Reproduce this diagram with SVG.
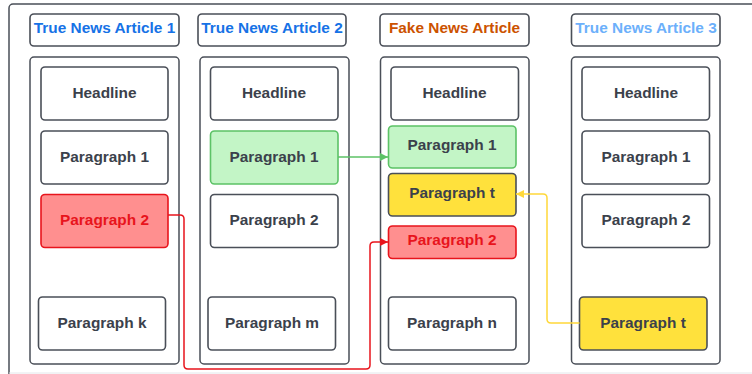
<svg xmlns="http://www.w3.org/2000/svg" width="752" height="374" viewBox="0 0 752 374">
  <defs>
    <style>
      .frame { fill: #ffffff; stroke: #4a4f58; stroke-width: 1.5; }
      .col { fill: #ffffff; stroke: #4a4f58; stroke-width: 1.5; }
      .box { fill: #ffffff; stroke: #4a4f58; stroke-width: 1.6; }
      .green { fill: #c3f5c6; stroke: #5cc266; }
      .red { fill: #ff8f8f; stroke: #e8141c; }
      .yellow { fill: #ffe13c; stroke: #4a4f58; }
      text { font-family: "Liberation Sans", Arial, sans-serif; font-size: 15.4px; font-weight: bold; text-anchor: middle; dominant-baseline: central; fill: #3b414b; }
      .t-blue { fill: #1672e6; }
      .t-orange { fill: #cc5200; }
      .t-light { fill: #6cb0fb; }
      .t-red { fill: #e8141c; }
      .conn { fill: none; stroke-width: 1.5; stroke-linejoin: round; }
    </style>
    <marker id="ah-green" markerWidth="10" markerHeight="10" refX="9" refY="5" orient="auto" markerUnits="userSpaceOnUse">
      <path d="M1,1 L9,5 L1,9 Z" fill="#5cc266"/>
    </marker>
    <marker id="ah-red" markerWidth="10" markerHeight="10" refX="9" refY="5" orient="auto" markerUnits="userSpaceOnUse">
      <path d="M1,1 L9,5 L1,9 Z" fill="#e8141c"/>
    </marker>
    <marker id="ah-yellow" markerWidth="10" markerHeight="10" refX="9" refY="5" orient="auto" markerUnits="userSpaceOnUse">
      <path d="M1,1 L9,5 L1,9 Z" fill="#ffd83a"/>
    </marker>
  </defs>

  <!-- outer frame, running past the right and bottom edges -->
  <rect class="frame" x="9" y="4" width="780" height="400" rx="4"/>
  <line x1="9" y1="373" x2="752" y2="373" stroke="#e4e6ea" stroke-width="1"/>

  <!-- article 1 -->
  <g id="article1">
    <rect class="box" x="30" y="14" width="149" height="32" rx="4"/>
    <text class="t-blue" x="104.5" y="27.5">True News Article 1</text>
    <rect class="col" x="30" y="57" width="149" height="307" rx="4"/>
  </g>
  <g id="a1-headline"><rect class="box" x="41" y="67" width="127" height="53" rx="4"/><text x="104.5" y="92">Headline</text></g>
  <g id="a1-p1"><rect class="box" x="41" y="131" width="127" height="53" rx="4"/><text x="104.5" y="156">Paragraph 1</text></g>
  <g id="a1-p2"><rect class="box red" x="41" y="194.5" width="127" height="53" rx="4"/><text class="t-red" x="104.5" y="219.5">Paragraph 2</text></g>
  <g id="a1-pk"><rect class="box" x="38.5" y="297" width="127" height="53" rx="4"/><text x="102" y="322">Paragraph k</text></g>

  <!-- article 2 -->
  <g id="article2">
    <rect class="box" x="198" y="14" width="148" height="32" rx="4"/>
    <text class="t-blue" x="272" y="27.5">True News Article 2</text>
    <rect class="col" x="200" y="57" width="149" height="307" rx="4"/>
  </g>
  <g id="a2-headline"><rect class="box" x="210.5" y="67" width="127.5" height="53" rx="4"/><text x="274" y="92">Headline</text></g>
  <g id="a2-p1"><rect class="box green" x="210.5" y="131" width="127.5" height="53" rx="4"/><text x="274" y="156">Paragraph 1</text></g>
  <g id="a2-p2"><rect class="box" x="210.5" y="194.5" width="127.5" height="53" rx="4"/><text x="274" y="219.5">Paragraph 2</text></g>
  <g id="a2-pm"><rect class="box" x="208" y="297" width="127.5" height="53" rx="4"/><text x="272" y="322">Paragraph m</text></g>

  <!-- fake article -->
  <g id="fake">
    <rect class="box" x="380" y="14" width="149" height="32" rx="4"/>
    <text class="t-orange" x="454.5" y="27.5">Fake News Article</text>
    <rect class="col" x="380.5" y="57" width="148.5" height="307" rx="4"/>
  </g>
  <g id="f-headline"><rect class="box" x="391" y="67" width="127.5" height="53" rx="4"/><text x="454.5" y="92">Headline</text></g>
  <g id="f-p1"><rect class="box green" x="388.5" y="126" width="127.5" height="42" rx="4"/><text x="452" y="144">Paragraph 1</text></g>
  <g id="f-pt"><rect class="box yellow" x="388.5" y="173.5" width="127.5" height="42.5" rx="4"/><text x="452" y="192">Paragraph t</text></g>
  <g id="f-p2"><rect class="box red" x="388.5" y="226" width="127.5" height="32.5" rx="4"/><text class="t-red" x="452" y="239.5">Paragraph 2</text></g>
  <g id="f-pn"><rect class="box" x="388.5" y="297" width="127.5" height="53" rx="4"/><text x="452" y="322">Paragraph n</text></g>

  <!-- article 3 -->
  <g id="article3">
    <rect class="box" x="571.5" y="14" width="148.5" height="32" rx="4"/>
    <text class="t-light" x="646" y="27.5">True News Article 3</text>
    <rect class="col" x="571.5" y="57" width="148.5" height="307" rx="4"/>
  </g>
  <g id="a3-headline"><rect class="box" x="582" y="67" width="127.5" height="53" rx="4"/><text x="646" y="92">Headline</text></g>
  <g id="a3-p1"><rect class="box" x="582" y="131" width="127.5" height="53" rx="4"/><text x="646" y="156">Paragraph 1</text></g>
  <g id="a3-p2"><rect class="box" x="582" y="194.5" width="127.5" height="53" rx="4"/><text x="646" y="219.5">Paragraph 2</text></g>
  <g id="a3-pt"><rect class="box yellow" x="579.5" y="297" width="127.5" height="53" rx="4"/><text x="643" y="322">Paragraph t</text></g>

  <!-- connectors -->
  <g id="connectors">
    <path class="conn" stroke="#5cc266" d="M338,157 L388,157" marker-end="url(#ah-green)"/>
    <path class="conn" stroke="#e8141c" d="M168,215 L180,215 Q184,215 184,219 L184,365 Q184,369 188,369 L366,369 Q370,369 370,365 L370,246 Q370,242 374,242 L388,242" marker-end="url(#ah-red)"/>
    <path class="conn" stroke="#ffd83a" d="M579.5,323 L551,323 Q547,323 547,319 L547,198 Q547,194 543,194 L516,194" marker-end="url(#ah-yellow)"/>
  </g>
</svg>
